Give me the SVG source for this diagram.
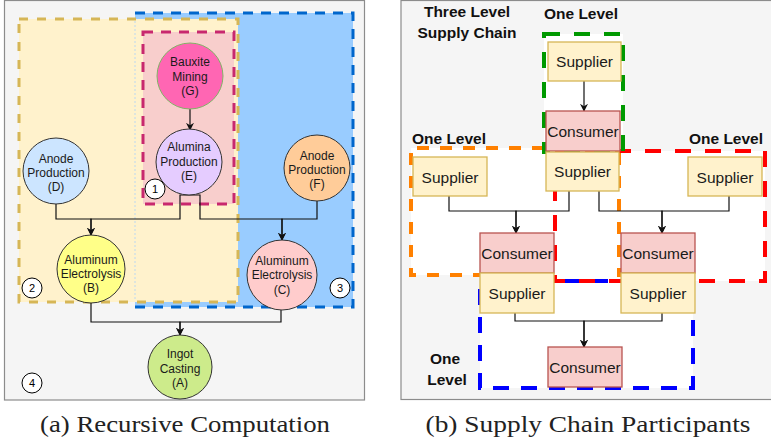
<svg xmlns="http://www.w3.org/2000/svg" width="771" height="441" viewBox="0 0 771 441">
<defs>
<style>
.panel{fill:#f5f5f5;stroke:#8c8c8c;stroke-width:1.2}
.n{stroke:#333;stroke-width:1}
.t{font-family:"Liberation Sans",Arial,sans-serif;font-size:12px;fill:#1a1a1a;text-anchor:middle}
.lab{font-family:"Liberation Sans",Arial,sans-serif;font-size:11px;fill:#000;text-anchor:middle}
.bt{font-family:"Liberation Sans",Arial,sans-serif;font-size:15.5px;font-weight:bold;fill:#111;text-anchor:middle}
.rt{font-family:"Liberation Sans",Arial,sans-serif;font-size:15.5px;fill:#1a1a1a;text-anchor:middle}
.cap{font-family:"Liberation Serif","Times New Roman",serif;font-size:23px;fill:#222;text-anchor:middle}
.e{fill:none;stroke:#111;stroke-width:1.2;marker-end:url(#ah)}
.sup{fill:#fff2cc;stroke:#d6b656;stroke-width:1.3}
.con{fill:#f8cecc;stroke:#b85450;stroke-width:1.3}
.box{fill:none;stroke-width:4}
</style>
<marker id="ah" viewBox="0 0 10 10" refX="9" refY="5" markerWidth="8" markerHeight="8" markerUnits="userSpaceOnUse" orient="auto">
<path d="M0,0 L10,5 L0,10 L3,5 z" fill="#111"/>
</marker>
</defs>

<!-- Panel (a) -->
<rect class="panel" x="4.5" y="0.5" width="360" height="399.5"/>
<g id="group3">
<rect x="135" y="13" width="218" height="294" fill="#99ccff" stroke="#0066cc" stroke-width="3" stroke-dasharray="10 8"/>
</g>
<g id="group2">
<rect x="19" y="19" width="219" height="283" fill="#fff2cc" stroke="#d6b656" stroke-width="3" stroke-dasharray="9 9"/>
<line x1="135" y1="21" x2="135" y2="300" stroke="#bcd8f0" stroke-width="1" stroke-dasharray="2 2"/>
</g>
<g id="group1">
<rect x="143" y="32" width="91" height="172" fill="#f8cecc" stroke="#c8286e" stroke-width="3" stroke-dasharray="10 8"/>
</g>

<g id="connectors-a">
<path class="e" d="M190,109 V130"/>
<path class="e" d="M56,204 V219 H91 V235"/>
<path class="e" d="M190,195 H180 V219 H91 V235"/>
<path class="e" d="M190,195 H200 V219 H282 V240"/>
<path class="e" d="M317,201 V219 H282 V240"/>
<path class="e" d="M91,303 V322 H180 V335"/>
<path class="e" d="M281,310 V322 H180 V335"/>
</g>

<g id="nodeG">
<circle cx="190" cy="76" r="33" fill="#ff66b3" stroke="#82b366" stroke-width="1"/>
<text class="t" x="190" y="66">Bauxite</text>
<text class="t" x="190" y="81">Mining</text>
<text class="t" x="190" y="95">(G)</text>
</g>
<g id="nodeE">
<circle class="n" cx="189" cy="162" r="33" fill="#e5ccff"/>
<text class="t" x="189" y="151">Alumina</text>
<text class="t" x="189" y="166">Production</text>
<text class="t" x="189" y="180">(E)</text>
</g>
<g id="nodeD">
<circle class="n" cx="56" cy="171" r="33" fill="#cce5ff"/>
<text class="t" x="56" y="163">Anode</text>
<text class="t" x="56" y="177">Production</text>
<text class="t" x="56" y="191">(D)</text>
</g>
<g id="nodeF">
<circle class="n" cx="317" cy="168" r="33" fill="#ffcc99"/>
<text class="t" x="317" y="160">Anode</text>
<text class="t" x="317" y="174">Production</text>
<text class="t" x="317" y="188">(F)</text>
</g>
<g id="nodeB">
<circle class="n" cx="91" cy="269" r="34" fill="#ffff88"/>
<text class="t" x="91" y="264">Aluminum</text>
<text class="t" x="91" y="278">Electrolysis</text>
<text class="t" x="91" y="292">(B)</text>
</g>
<g id="nodeC">
<circle class="n" cx="282" cy="275" r="35" fill="#ffcccc"/>
<text class="t" x="282" y="265">Aluminum</text>
<text class="t" x="282" y="279">Electrolysis</text>
<text class="t" x="282" y="294">(C)</text>
</g>
<g id="nodeA">
<circle class="n" cx="180" cy="367" r="32" fill="#cdeb8b"/>
<text class="t" x="180" y="358">Ingot</text>
<text class="t" x="180" y="373">Casting</text>
<text class="t" x="180" y="387">(A)</text>
</g>
<g id="label1"><circle cx="155" cy="189" r="10" fill="#fff" stroke="#000" stroke-width="1"/><text class="lab" x="155" y="193">1</text></g>
<g id="label2"><circle cx="32" cy="288" r="10" fill="#fff" stroke="#000" stroke-width="1"/><text class="lab" x="32" y="292">2</text></g>
<g id="label3"><circle cx="340" cy="288" r="10" fill="#fff" stroke="#000" stroke-width="1"/><text class="lab" x="340" y="292">3</text></g>
<g id="label4"><circle cx="32" cy="383" r="10" fill="#fff" stroke="#000" stroke-width="1"/><text class="lab" x="32" y="387">4</text></g>

<text class="cap" x="185" y="432" textLength="290" lengthAdjust="spacingAndGlyphs">(a) Recursive Computation</text>

<!-- Panel (b) -->
<rect class="panel" x="401" y="0.5" width="380" height="399"/>
<g id="levelboxes-fill">
<rect x="480" y="281" width="213" height="107" fill="#fff"/>
<rect x="555" y="151" width="210" height="130" fill="#fff"/>
<rect x="411" y="148" width="208" height="127" fill="#fff"/>
<rect x="544" y="34" width="79" height="118" fill="#fff"/>
</g>
<g id="levelbox-blue"><rect class="box" x="480" y="281" width="213" height="107" stroke="#0000ff" stroke-dasharray="16 12"/></g>
<g id="levelbox-red"><rect class="box" x="555" y="151" width="210" height="130" stroke="#ff0000" stroke-dasharray="16 14"/></g>
<g id="levelbox-orange"><path class="box" d="M554,275 H411 V148 H619 V277" stroke="#ff8000" stroke-dasharray="12 11"/></g>
<g id="levelbox-green"><rect class="box" x="544" y="34" width="79" height="118" stroke="#009900" stroke-dasharray="16 14"/></g>

<text class="bt" x="467" y="17">Three Level</text>
<text class="bt" x="467" y="38">Supply Chain</text>
<text class="bt" x="581" y="19">One Level</text>
<text class="bt" x="449" y="144">One Level</text>
<text class="bt" x="726" y="144">One Level</text>
<text class="bt" x="445" y="364">One</text>
<text class="bt" x="447" y="385">Level</text>

<g id="connectors-b">
<path class="e" d="M584,81 V111"/>
<path class="e" d="M449,196 V211 H516 V233"/>
<path class="e" d="M569,191 V211 H516 V233"/>
<path class="e" d="M599,191 V211 H662 V233"/>
<path class="e" d="M729,196 V211 H662 V233"/>
<path class="e" d="M515,313 V321 H584 V347"/>
<path class="e" d="M662,313 V321 H584 V347"/>
</g>

<g id="supTop"><rect class="sup" x="548" y="42" width="73" height="39"/><text class="rt" x="584.5" y="67">Supplier</text></g>
<g id="conTop"><rect class="con" x="546" y="111" width="74" height="40"/><text class="rt" x="583" y="137">Consumer</text></g>
<g id="supMid"><rect class="sup" x="546" y="152" width="73" height="39"/><text class="rt" x="582.5" y="177">Supplier</text></g>
<g id="supLeft"><rect class="sup" x="413" y="157" width="74" height="39"/><text class="rt" x="450" y="183">Supplier</text></g>
<g id="supRight"><rect class="sup" x="688" y="157" width="74" height="39"/><text class="rt" x="725" y="183">Supplier</text></g>
<g id="conL"><rect class="con" x="480" y="233" width="74" height="40"/><text class="rt" x="517" y="259">Consumer</text></g>
<g id="supL"><rect class="sup" x="480" y="273" width="74" height="40"/><text class="rt" x="517" y="299">Supplier</text></g>
<g id="conR"><rect class="con" x="621" y="233" width="74" height="40"/><text class="rt" x="658" y="259">Consumer</text></g>
<g id="supR"><rect class="sup" x="621" y="273" width="74" height="40"/><text class="rt" x="658" y="299">Supplier</text></g>
<g id="conBottom"><rect class="con" x="548" y="347" width="74" height="40"/><text class="rt" x="585" y="373">Consumer</text></g>

<text class="cap" x="588" y="432" textLength="325" lengthAdjust="spacingAndGlyphs">(b) Supply Chain Participants</text>
</svg>
